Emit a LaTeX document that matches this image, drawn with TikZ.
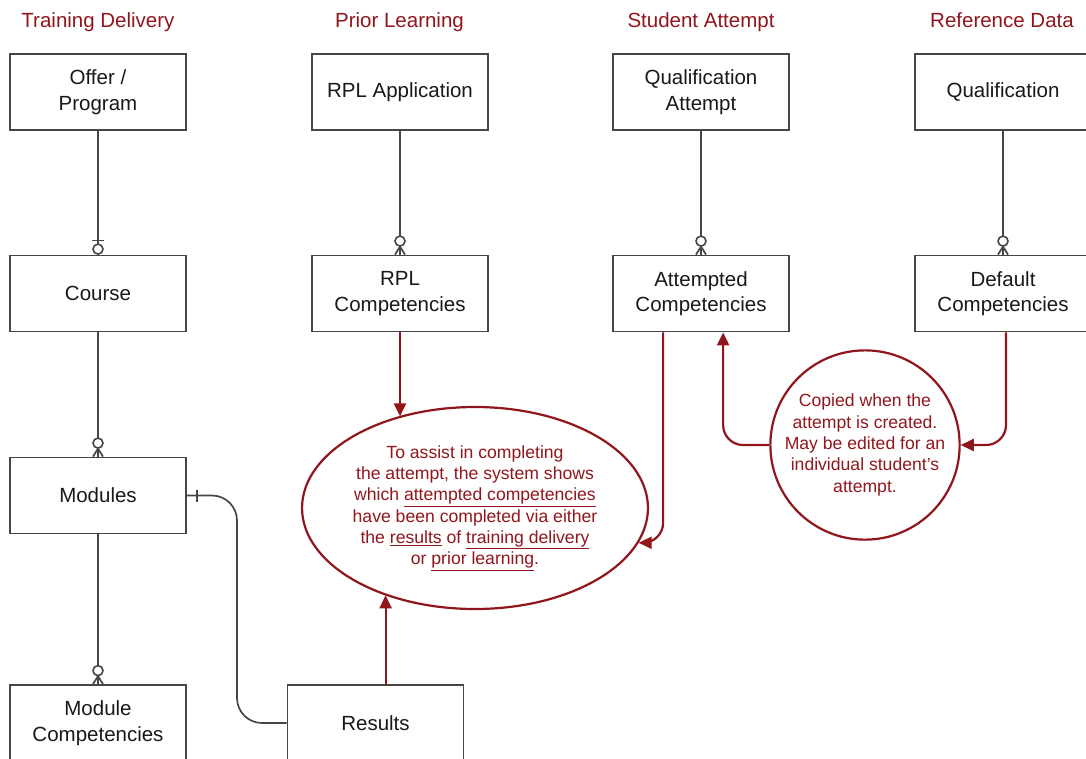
\documentclass[tikz,border=0pt]{standalone}
\usepackage{fontspec}
\setmainfont{Liberation Sans}
\usetikzlibrary{arrows.meta,shapes.geometric,calc}
\definecolor{dred}{RGB}{145,22,28}
\definecolor{lgray}{RGB}{70,70,70}
\definecolor{tblack}{RGB}{25,25,25}
\begin{document}
\begin{tikzpicture}[x=1pt,y=-1pt,
  entity/.style={draw=lgray,line width=1.8pt,fill=white,minimum width=176pt,minimum height=76pt,
    align=center,inner sep=0pt,text=tblack,font=\fontsize{20.5}{25.5}\selectfont},
  header/.style={text=dred,font=\fontsize{20.5}{24}\selectfont,anchor=base},
  rel/.style={draw=lgray,line width=1.7pt},
  note/.style={draw=dred,line width=2.2pt,text=dred,align=center,inner sep=0pt,
    font=\fontsize{17.6}{21.3}\selectfont},
  redarr/.style={draw=dred,line width=2.2pt,-{Triangle[length=13pt,width=12pt]}},
  ocircle/.style={draw=lgray,line width=1.6pt,fill=white}]
\clip (0,0) rectangle (1086,758);
% headers
\node[header] (h1) at (98,27) {Training Delivery};
\node[header] (h2) at (399.5,27) {Prior Learning};
\node[header] (h3) at (701,27) {Student Attempt};
\node[header] (h4) at (1002,27) {Reference Data};
% entities
\node[entity] (off) at (98,92) {Offer /\\Program};
\node[entity] (course) at (98,293.5) {Course};
\node[entity] (mods) at (98,495.5) {Modules};
\node[entity] (modc) at (98,723) {Module\\Competencies};
\node[entity] (rpla) at (400,92) {RPL Application};
\node[entity] (rplc) at (400,293.5) {RPL\\Competencies};
\node[entity] (qa) at (701,92) {Qualification\\Attempt};
\node[entity] (ac) at (701,293.5) {Attempted\\Competencies};
\node[entity] (q) at (1003,92) {Qualification};
\node[entity] (qd) at (1003,293.5) {Default\\Competencies};
\node[entity] (res) at (375.5,723) {Results};
% notes
\node[note,ellipse,minimum width=330pt,minimum height=202pt] (ell) at (475,508)
  {To assist in completing\\the attempt, the system shows\\which \underline{attempted competencies}\\have been completed via either\\the \underline{results} of \underline{training delivery}\\or \underline{prior learning}.};
\node[note,circle,minimum size=176pt] (circ) at (865,445)
  {Copied when the\\attempt is created.\\May be edited for an\\individual student's\\attempt.};
% relationships: one to zero-or-one
\draw[rel] (off.south) -- (course.north);
\draw[rel] ($(course.north)+(-6,-14)$) -- ($(course.north)+(6,-14)$);
\draw[ocircle] ($(course.north)+(0,-5.5)$) circle[radius=5pt];
% zero-or-many
\foreach \a/\b in {course/mods, mods/modc, rpla/rplc, qa/ac, q/qd}{
  \draw[rel] (\a.south) -- (\b.north);
  \draw[rel] ($(\b.north)+(-5,0)$) -- ($(\b.north)+(0,-8)$) -- ($(\b.north)+(5,0)$);
  \draw[ocircle] ($(\b.north)+(0,-13.5)$) circle[radius=5pt];
}
% modules to results
\coordinate (c1) at (237,495.5);
\draw[rel,rounded corners=25pt] (mods.east) -- (mods.east -| c1) -- (res.west -| c1) -- (res.west);
\draw[rel] ($(mods.east)+(10,-6)$) -- ($(mods.east)+(10,6)$);
% red arrows
\draw[redarr] (rplc.south) -- (rplc.south |- ell.130);
\coordinate (r1) at ($(res.north west)+(99,0)$);
\draw[redarr] (r1) -- (r1 |- ell.224);
\coordinate (a1) at ($(ac.south west)+(51,0)$);
\draw[redarr,rounded corners=20pt] (a1) |- (ell.-12);
\coordinate (a2) at ($(ac.south west)+(111,0)$);
\draw[redarr,rounded corners=20pt] (circ.west) -| (a2);
\coordinate (d1) at ($(qd.south)+(3,0)$);
\draw[redarr,rounded corners=20pt] (d1) |- (circ.east);
\end{tikzpicture}
\end{document}
